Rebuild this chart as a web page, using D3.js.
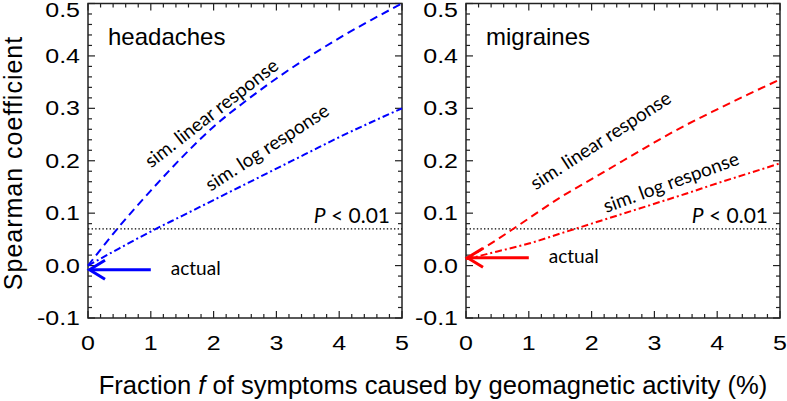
<!DOCTYPE html>
<html>
<head>
<meta charset="utf-8">
<script src="https://cdn.jsdelivr.net/npm/d3@7"></script>
<style>
  body { margin: 0; background: #fff; }
  svg { display: block; }
</style>
</head>
<body>
<svg id="chart" width="787" height="401"></svg>
<script>
// ---- data
const panelNames = ['headaches', 'migraines'];
const panelColors = ['#0000ff', '#ff0000'];
const fGrid = [0, 0.5, 1, 1.5, 2, 2.5, 3, 3.5, 4, 4.5, 5];
const headLinear = [0, 0.075, 0.143, 0.207, 0.265, 0.313, 0.357, 0.397, 0.434, 0.468, 0.5];
const headLog = [0, 0.033, 0.065, 0.095, 0.125, 0.155, 0.185, 0.215, 0.245, 0.273, 0.30];
const migLinear = [0.012, 0.05, 0.09, 0.13, 0.165, 0.2, 0.235, 0.268, 0.298, 0.327, 0.355];
const migLog = [0.012, 0.027, 0.042, 0.061, 0.08, 0.099, 0.118, 0.137, 0.157, 0.176, 0.195];
const actualValues = [-0.008, 0.015];
const threshold = 0.07;
const xTicks = [0, 1, 2, 3, 4, 5];
const yTicks = [-0.1, 0, 0.1, 0.2, 0.3, 0.4, 0.5];
const yTickLabels = ['-0.1', '0.0', '0.1', '0.2', '0.3', '0.4', '0.5'];
const linearSeries = [headLinear, migLinear];
const logSeries = [headLog, migLog];

// label anchors in data units (f, rho) and rotation
const labelSpecs = [
    [{ f: 2.03, v: 0.281, a: -38 }, { f: 2.91, v: 0.215, a: -33 }],
    [{ f: 2.2, v: 0.228, a: -33 }, { f: 3.3, v: 0.147, a: -20 }]
];

const svg = d3.select('#chart');
const panelLeft = [88, 466];
const panelWidth = 314;
const plotTop = 3.5, plotBottom = 318;

const y = d3.scaleLinear().domain([-0.1, 0.5]).range([plotBottom, plotTop]);

const tickFont = '"Liberation Sans", Arial, Helvetica, sans-serif';
const noteFont = 'Lato, "Open Sans", sans-serif';

panelNames.forEach((name, i) => {
    const x = d3.scaleLinear().domain([0, 5]).range([panelLeft[i], panelLeft[i] + panelWidth]);
    const color = panelColors[i];
    const g = svg.append('g');

    // ---- frame
    g.append('rect')
        .attr('x', x(0)).attr('y', y(0.5))
        .attr('width', x(5) - x(0)).attr('height', y(-0.1) - y(0.5))
        .attr('fill', 'none').attr('stroke', '#222').attr('stroke-width', 1.5);

    // ---- ticks (inward, all four sides)
    const xMinor = d3.range(0, 5.0001, 0.2);
    const yMinor = d3.range(-0.1, 0.5001, 0.02);
    const isMajorX = d => Math.abs(d - Math.round(d)) < 1e-6;
    const isMajorY = d => Math.abs(d * 10 - Math.round(d * 10)) < 1e-6;

    g.append('g').selectAll('line')
        .data(xMinor).join('line')
        .attr('x1', d => x(d)).attr('x2', d => x(d))
        .attr('y1', y(-0.1)).attr('y2', d => y(-0.1) - (isMajorX(d) ? 7 : 4))
        .attr('stroke', '#222').attr('stroke-width', 1.2);
    g.append('g').selectAll('line')
        .data(xMinor).join('line')
        .attr('x1', d => x(d)).attr('x2', d => x(d))
        .attr('y1', y(0.5)).attr('y2', d => y(0.5) + (isMajorX(d) ? 7 : 4))
        .attr('stroke', '#222').attr('stroke-width', 1.2);
    g.append('g').selectAll('line')
        .data(yMinor).join('line')
        .attr('y1', d => y(d)).attr('y2', d => y(d))
        .attr('x1', x(0)).attr('x2', d => x(0) + (isMajorY(d) ? 7 : 4))
        .attr('stroke', '#222').attr('stroke-width', 1.2);
    g.append('g').selectAll('line')
        .data(yMinor).join('line')
        .attr('y1', d => y(d)).attr('y2', d => y(d))
        .attr('x1', x(5)).attr('x2', d => x(5) - (isMajorY(d) ? 7 : 4))
        .attr('stroke', '#222').attr('stroke-width', 1.2);

    // ---- tick labels
    g.append('g').selectAll('text')
        .data(xTicks).join('text')
        .attr('transform', d => `translate(${x(d)},350) scale(1.25,1)`)
        .attr('text-anchor', 'middle')
        .attr('font-family', tickFont).attr('font-size', '20px')
        .text(d => d);
    g.append('g').selectAll('text')
        .data(yTicks).join('text')
        .attr('transform', (d, k) => `translate(${x(0) - 8},${Math.max(y(d), 10) + 7}) scale(1.25,1)`)
        .attr('text-anchor', 'end')
        .attr('font-family', tickFont).attr('font-size', '20px')
        .text((d, k) => yTickLabels[k]);

    // ---- significance threshold
    g.append('line')
        .attr('x1', x(0)).attr('x2', x(5))
        .attr('y1', y(threshold)).attr('y2', y(threshold))
        .attr('stroke', '#000').attr('stroke-width', 1.4)
        .attr('stroke-dasharray', '1.4,2.2');
    g.append('text')
        .attr('x', x(5) - 12).attr('y', y(threshold) - 6)
        .attr('text-anchor', 'end')
        .attr('font-family', noteFont).attr('font-size', '21px')
        .call(t => t.append('tspan').attr('font-style', 'italic').text('P'))
        .call(t => t.append('tspan').text(' < 0.01'));

    // ---- simulated curves
    const line = d3.line()
        .x((d, k) => x(fGrid[k]))
        .y(d => y(d))
        .curve(d3.curveMonotoneX);

    g.append('path')
        .attr('d', line(linearSeries[i]))
        .attr('fill', 'none').attr('stroke', color).attr('stroke-width', 2)
        .attr('stroke-dasharray', '8,5');
    g.append('path')
        .attr('d', line(logSeries[i]))
        .attr('fill', 'none').attr('stroke', color).attr('stroke-width', 2)
        .attr('stroke-dasharray', '7,3,2,3');

    const labelTexts = ['sim. linear response', 'sim. log response'];
    labelSpecs[i].forEach((s, k) => {
        g.append('text')
            .attr('transform', `translate(${x(s.f)},${y(s.v)}) rotate(${s.a})`)
            .attr('text-anchor', 'middle')
            .attr('font-family', noteFont).attr('font-size', '19px')
            .text(labelTexts[k]);
    });

    // ---- actual value arrow
    const ya = y(actualValues[i]);
    g.append('line')
        .attr('x1', x(1)).attr('x2', x(0) + 2)
        .attr('y1', ya).attr('y2', ya)
        .attr('stroke', color).attr('stroke-width', 3);
    g.append('path')
        .attr('d', `M${x(0) + 17},${ya - 9.5}L${x(0) + 1.5},${ya}L${x(0) + 17},${ya + 9.5}`)
        .attr('fill', 'none').attr('stroke', color).attr('stroke-width', 3);
    g.append('text')
        .attr('x', x(1) + 20).attr('y', ya + 5)
        .attr('font-family', noteFont).attr('font-size', '19px')
        .text('actual');

    // ---- panel name
    g.append('text')
        .attr('x', x(0) + 20).attr('y', 45)
        .attr('font-family', tickFont).attr('font-size', '24px')
        .text(name);
});

// ---- axis titles
svg.append('text')
    .attr('transform', 'translate(22,163) rotate(-90)')
    .attr('text-anchor', 'middle')
    .attr('font-family', tickFont).attr('font-size', '25px')
    .attr('letter-spacing', '1px')
    .text('Spearman coefficient');

svg.append('text')
    .attr('x', 433).attr('y', 394)
    .attr('text-anchor', 'middle')
    .attr('font-family', tickFont).attr('font-size', '25.6px')
    .call(t => t.append('tspan').text('Fraction '))
    .call(t => t.append('tspan').attr('font-style', 'italic').text('f'))
    .call(t => t.append('tspan').text(' of symptoms caused by geomagnetic activity (%)'));
</script>
</body>
</html>
